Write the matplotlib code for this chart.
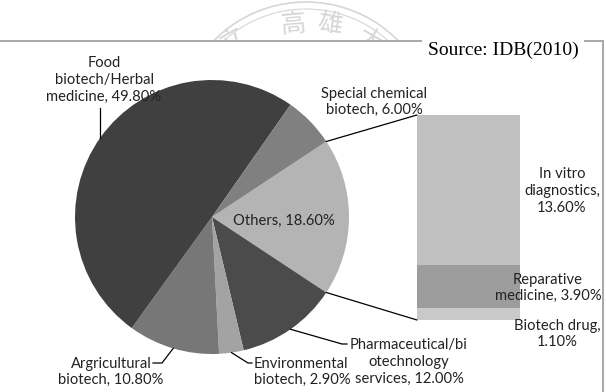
import numpy as np
import matplotlib
matplotlib.use("Agg")
import matplotlib.pyplot as plt
from matplotlib.patches import ConnectionPatch, Rectangle, Arc

# ---------------- data ----------------
pie_labels = ["Others", "Pharmaceutical/bi\notechnology\nservices", "Environmental\nbiotech",
              "Argricultural\nbiotech", "Food\nbiotech/Herbal\nmedicine", "Special chemical\nbiotech"]
pie_values = [18.6, 12.0, 2.9, 10.8, 49.8, 6.0]
pie_colors = ["#b4b4b4", "#4b4b4b", "#a3a3a3", "#777777", "#404040", "#808080"]

bar_labels = ["Biotech drug,\n1.10%", "Reparative\nmedicine, 3.90%", "In vitro\ndiagnostics,\n13.60%"]
bar_values = [1.1, 3.9, 13.6]
bar_colors = ["#c9c9c9", "#9c9c9c", "#c0c0c0"]

source_text = "Source: IDB(2010)"

W, H = 606, 392
fig = plt.figure(figsize=(W / 100, H / 100), dpi=100)

def Y(y):
    return H - y

# background axes: watermark + chart area frame
axbg = fig.add_axes([0, 0, 1, 1], zorder=0)
axbg.set_xlim(0, W)
axbg.set_ylim(0, H)
axbg.axis("off")
wm = "#d6d6d6"
axbg.add_patch(Arc((306, Y(131)), 258, 258, theta1=20, theta2=160, color=wm, lw=1.2))
axbg.add_patch(Arc((306, Y(131)), 244, 244, theta1=20, theta2=160, color=wm, lw=0.8))
for ch, (x, y, rot) in zip("立高雄大", [(233, 40, 30), (293, 25, 5), (330, 24, -8), (370, 41, -30)]):
    axbg.text(x, Y(y), ch, fontsize=18, color=wm, family=["Noto Sans CJK TC", "DejaVu Sans"],
              ha="center", va="center", rotation=rot)
axbg.add_patch(Rectangle((-5, -5), 608, Y(41) + 5, facecolor="white", edgecolor="#a8a8a8",
                         lw=1.4, zorder=3))

# main axes (transparent) for pie and labels
ax = fig.add_axes([0, 0, 1, 1], zorder=2)
ax.patch.set_alpha(0)

FONT = ["Lato", "DejaVu Sans"]
FS = 10.6

# ---------------- pie ----------------
cx, cy, r = 212, Y(217), 137
total = sum(pie_values)
start = 180.0 * pie_values[0] / total
wedges, _ = ax.pie(pie_values, colors=pie_colors, startangle=start, counterclock=False,
                   center=(cx, cy), radius=r, frame=True,
                   wedgeprops=dict(linewidth=0))
ax.set_xlim(0, W)
ax.set_ylim(0, H)
ax.set_aspect("equal")
ax.axis("off")

bounds = start - np.cumsum([0] + pie_values) / total * 360.0
mids = (bounds[:-1] + bounds[1:]) / 2.0

def edge(angle, rr=r):
    a = np.deg2rad(angle)
    return cx + rr * np.cos(a), cy + rr * np.sin(a)

def pct(v):
    return f"{v:.2f}%"

tkw = dict(fontsize=FS, family=FONT, color="#222222", zorder=5, linespacing=1.25)
lkw = dict(color="black", lw=0.9, zorder=4)

# Others (inside)
ax.text(284, Y(221), f"Others, {pct(pie_values[0])}", ha="center", va="center", **tkw)

# Pharmaceutical
p = edge(mids[1])
ax.plot([p[0], 342, 347], [p[1], Y(344), Y(344)], **lkw)
lines = pie_labels[1].split("\n")
ax.text(409, Y(362), f"{lines[0]}\n{lines[1]}\n{lines[2]}, {pct(pie_values[1])}",
        ha="center", va="center", **tkw)

# Environmental
p = edge(mids[2])
ax.plot([p[0], 248, 252], [p[1], Y(363), Y(363)], **lkw)
lines = pie_labels[2].split("\n")
ax.text(254, Y(372), f"{lines[0]}\n{lines[1]}, {pct(pie_values[2])}",
        ha="left", va="center", **tkw)

# Agricultural
p = edge(mids[3])
ax.plot([p[0], 162, 153], [p[1], Y(363), Y(363)], **lkw)
lines = pie_labels[3].split("\n")
ax.text(111, Y(372), f"{lines[0]}\n{lines[1]}, {pct(pie_values[3])}",
        ha="center", va="center", **tkw)

# Food
p = edge(mids[4])
ax.plot([p[0], p[0]], [p[1], Y(108)], **lkw)
lines = pie_labels[4].split("\n")
ax.text(104, Y(80), f"{lines[0]}\n{lines[1]}\n{lines[2]}, {pct(pie_values[4])}",
        ha="center", va="center", **tkw)

# Special chemical
lines = pie_labels[5].split("\n")
ax.text(374, Y(102), f"{lines[0]}\n{lines[1]}, {pct(pie_values[5])}",
        ha="center", va="center", **tkw)

# ---------------- bar ----------------
bx0, bx1, by0, by1 = 417, 520, 115, 320
axb = fig.add_axes([bx0 / W, Y(by1) / H, (bx1 - bx0) / W, (by1 - by0) / H], zorder=1)
axb.set_xlim(-0.5, 0.5)
axb.set_ylim(0, sum(bar_values))
axb.axis("off")
bottom = 0
for v, c in zip(bar_values, bar_colors):
    axb.bar(0, v, width=1.0, bottom=bottom, color=c, linewidth=0)
    bottom += v

# bar labels
ax.text(557, Y(334), bar_labels[0], ha="center", va="center", **tkw)
ax.text(548, Y(288), bar_labels[1], ha="center", va="center", **tkw)
ax.text(562, Y(191), bar_labels[2], ha="center", va="center", **tkw)

# connectors
for ang, yb in [(bounds[0], sum(bar_values)), (bounds[1], 0)]:
    con = ConnectionPatch(xyA=edge(ang), coordsA=ax.transData, xyB=(-0.5, yb),
                          coordsB=axb.transData, color="black", lw=0.9)
    ax.add_artist(con)

# source
ax.text(503, Y(50), source_text, ha="center", va="center", fontsize=14,
        family=["Liberation Serif", "DejaVu Serif"], color="black", zorder=6,
        bbox=dict(facecolor="white", edgecolor="none", pad=4))

fig.savefig("out.png", dpi=100)
